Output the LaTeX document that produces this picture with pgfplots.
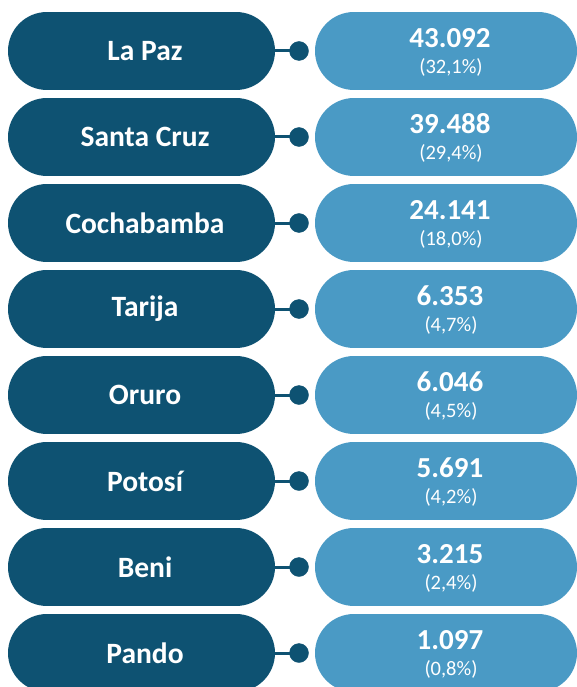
\documentclass[border=0pt]{standalone}
\usepackage{fontspec}
\setmainfont{Carlito}
\usepackage{pgfplots}
\usepackage{pgfplotstable}
\pgfplotsset{compat=1.18}

\definecolor{darkpill}{HTML}{0E5272}
\definecolor{lightpill}{HTML}{4A9AC5}

% one row per department: row centre (from top), name, count, share
\pgfplotstableread[col sep=semicolon]{
y;name;value;pct
51;La Paz;43.092;(32,1\%)
137;Santa Cruz;39.488;(29,4\%)
223;Cochabamba;24.141;(18,0\%)
309;Tarija;6.353;(4,7\%)
395;Oruro;6.046;(4,5\%)
481;Potosí;5.691;(4,2\%)
567;Beni;3.215;(2,4\%)
653;Pando;1.097;(0,8\%)
}\deptdata

\begin{document}
\begin{tikzpicture}
\begin{axis}[
    width=577pt, height=687pt,
    scale only axis,
    xmin=0, xmax=577,
    ymin=0, ymax=687,
    y dir=reverse,
    hide axis,
    clip=true,
]
% left pills (dark): thick segments with round caps
\addplot[darkpill, line width=78pt, line cap=round, unbounded coords=jump] coordinates {
    (47,51) (236,51) (nan,nan)
    (47,137) (236,137) (nan,nan)
    (47,223) (236,223) (nan,nan)
    (47,309) (236,309) (nan,nan)
    (47,395) (236,395) (nan,nan)
    (47,481) (236,481) (nan,nan)
    (47,567) (236,567) (nan,nan)
    (47,653) (236,653)
};
% right pills (light)
\addplot[lightpill, line width=78pt, line cap=round, unbounded coords=jump] coordinates {
    (354,51) (538,51) (nan,nan)
    (354,137) (538,137) (nan,nan)
    (354,223) (538,223) (nan,nan)
    (354,309) (538,309) (nan,nan)
    (354,395) (538,395) (nan,nan)
    (354,481) (538,481) (nan,nan)
    (354,567) (538,567) (nan,nan)
    (354,653) (538,653)
};
% connectors
\addplot[darkpill, line width=3pt, unbounded coords=jump] coordinates {
    (268,51) (299,51) (nan,nan)
    (268,137) (299,137) (nan,nan)
    (268,223) (299,223) (nan,nan)
    (268,309) (299,309) (nan,nan)
    (268,395) (299,395) (nan,nan)
    (268,481) (299,481) (nan,nan)
    (268,567) (299,567) (nan,nan)
    (268,653) (299,653)
};
\addplot[only marks, mark=*, mark size=9.5pt, darkpill] table[x expr=299, y=y] {\deptdata};
% labels
\addplot[only marks, mark=none, point meta=explicit symbolic,
    nodes near coords, nodes near coords align=center,
    every node near coord/.style={anchor=center, text=white,
        font=\fontsize{29.5}{31}\selectfont\bfseries}]
    table[x expr=145, y=y, meta=name] {\deptdata};
\addplot[only marks, mark=none, point meta=explicit symbolic,
    nodes near coords, nodes near coords align=center,
    every node near coord/.style={anchor=center, text=white,
        font=\fontsize{29}{31}\selectfont\bfseries}]
    table[x expr=450, y expr=\thisrow{y}-13, meta=value] {\deptdata};
\addplot[only marks, mark=none, point meta=explicit symbolic,
    nodes near coords, nodes near coords align=center,
    every node near coord/.style={anchor=center, text=white,
        font=\fontsize{20.5}{22}\selectfont}]
    table[x expr=451, y expr=\thisrow{y}+16, meta=pct] {\deptdata};
\end{axis}
\pgfresetboundingbox
\path (current axis.south west) rectangle (current axis.north east);
\end{tikzpicture}
\end{document}
